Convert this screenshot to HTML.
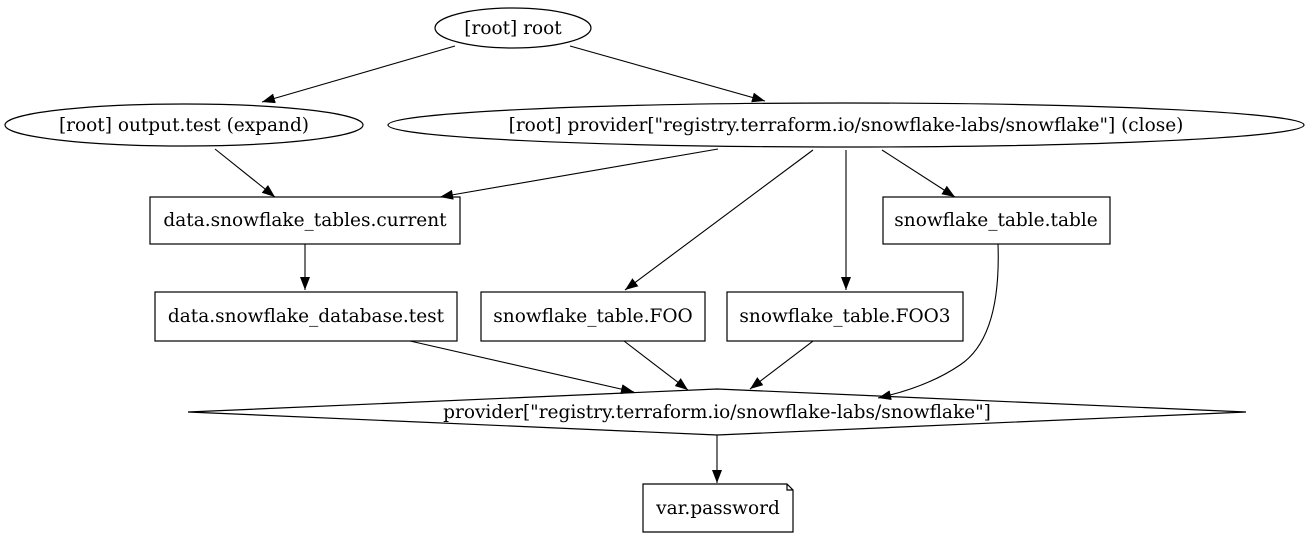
<!DOCTYPE html>
<html><head><meta charset="utf-8"><style>body{margin:0;background:#fff}svg{display:block}</style></head>
<body>
<svg width="1307" height="539" viewBox="0 0 1307 539" xmlns="http://www.w3.org/2000/svg" font-family="'DejaVu Serif', serif" font-size="18.5">
<defs><marker id="a" markerWidth="13" markerHeight="10" refX="13" refY="5" orient="auto" markerUnits="userSpaceOnUse" viewBox="0 0 13 10"><path d="M0,0 L13,5 L0,10z" fill="#000"/></marker></defs>
<g fill="none" stroke="#000" stroke-width="1.2">
<ellipse cx="513" cy="28" rx="78" ry="20"/>
<ellipse cx="184" cy="125" rx="179" ry="21"/>
<ellipse cx="846" cy="125" rx="458" ry="22"/>
<rect x="150" y="197" width="310" height="47"/>
<rect x="883" y="197" width="227" height="47"/>
<rect x="155" y="292" width="302" height="49"/>
<rect x="481" y="292" width="224" height="49"/>
<rect x="727" y="292" width="236" height="49"/>
<path d="M717,389 L1246,412 L717,435 L188,412 Z"/>
<path d="M643,484 L787,484 L793,490 L793,532 L643,532 Z M787,484 L787,490 L793,490"/>
</g>
<g fill="none" stroke="#000" stroke-width="1.1" marker-end="url(#a)">
<path d="M455,46 L262,102"/>
<path d="M570,46 L765,101"/>
<path d="M215,149 L275,197"/>
<path d="M718,149 L440,197"/>
<path d="M813,150 L625,290"/>
<path d="M846,150 L846,290"/>
<path d="M882,150 L955,197"/>
<path d="M305,244 L305,290"/>
<path d="M410,341 L634,392"/>
<path d="M624,341 L688,390"/>
<path d="M813,341 L750,389"/>
<path d="M998,244 C1000,300 990,345 960,365 C935,382 905,392 878,398"/>
<path d="M717,435 L717,483"/>
</g>
<g text-anchor="middle" fill="#000">
<text x="513" y="34">[root] root</text>
<text x="184" y="131">[root] output.test (expand)</text>
<text x="846" y="131">[root] provider["registry.terraform.io/snowflake-labs/snowflake"] (close)</text>
<text x="305" y="226">data.snowflake_tables.current</text>
<text x="996" y="226">snowflake_table.table</text>
<text x="306" y="322">data.snowflake_database.test</text>
<text x="593" y="322">snowflake_table.FOO</text>
<text x="845" y="322">snowflake_table.FOO3</text>
<text x="717" y="418">provider["registry.terraform.io/snowflake-labs/snowflake"]</text>
<text x="718" y="514">var.password</text>
</g>
</svg>
</body></html>
